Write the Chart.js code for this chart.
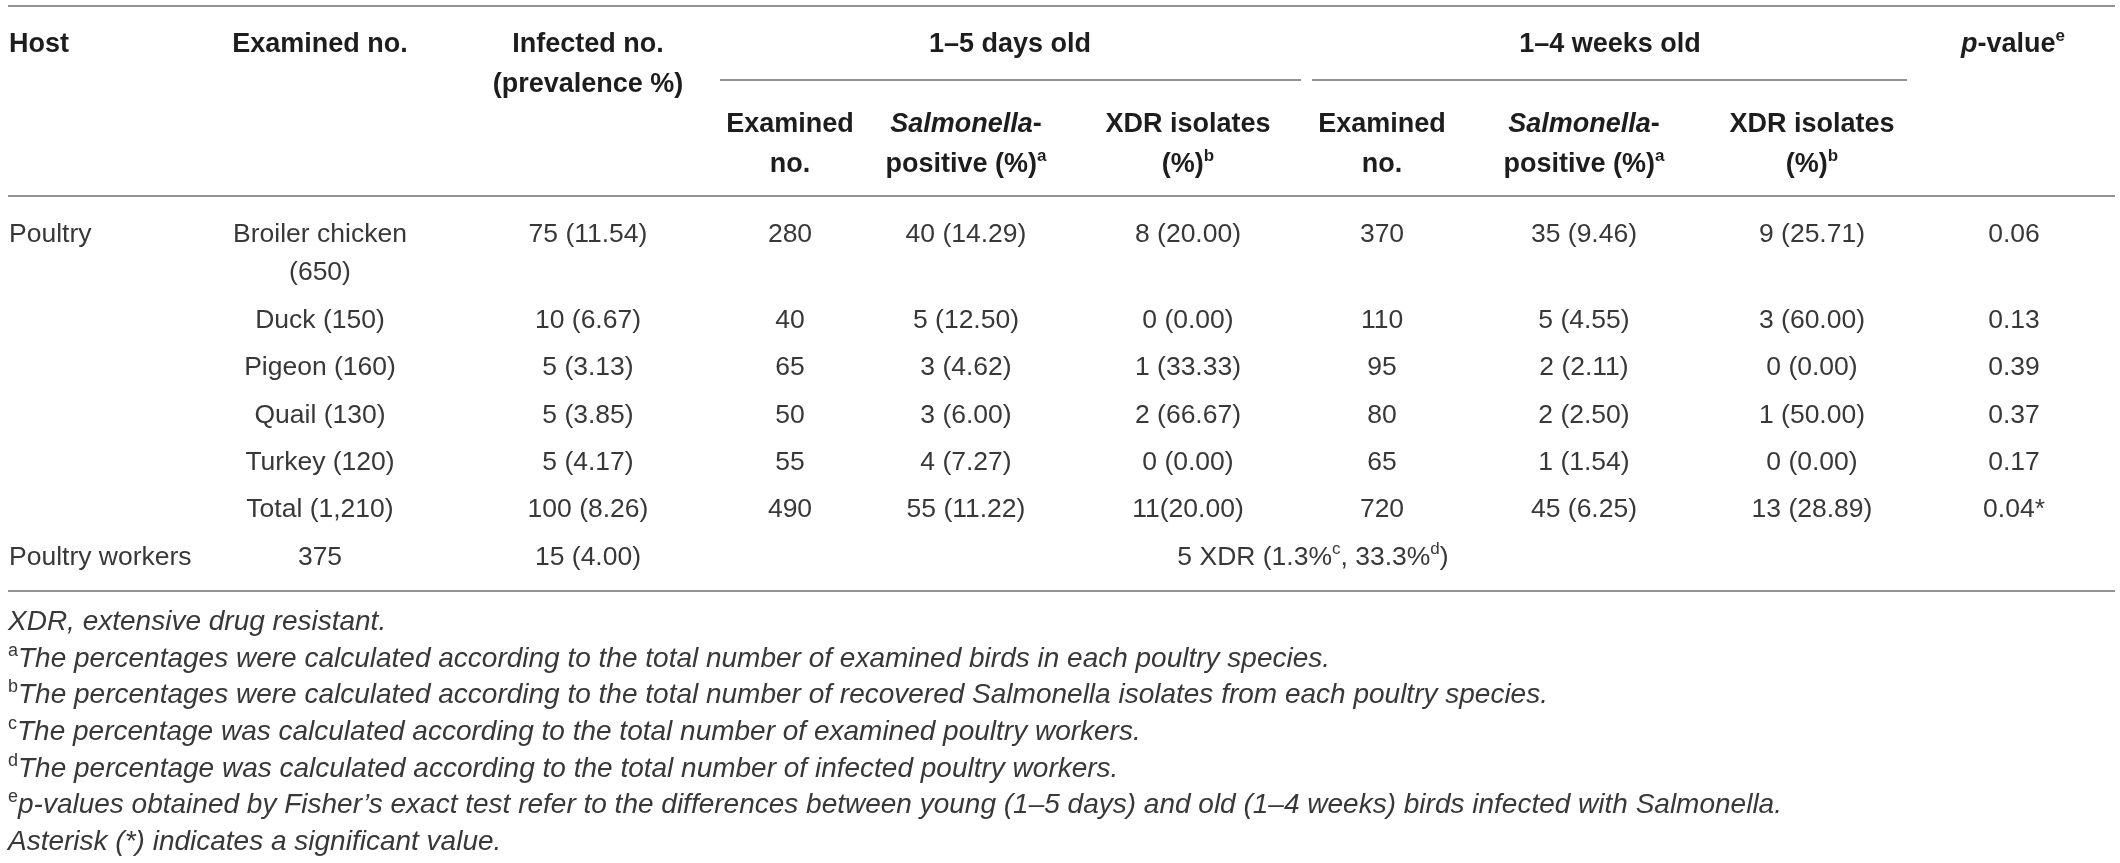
<!DOCTYPE html>
<html>
<head>
<meta charset="utf-8">
<title>Salmonella in poultry and poultry workers</title>
<script src="https://cdn.jsdelivr.net/npm/chart.js@4.4.1/dist/chart.umd.min.js"></script>
<style>
  html, body { margin: 0; padding: 0; background: #fff; }
  #wrap { width: 2120px; height: 863px; }
</style>
</head>
<body>
<div id="wrap"><canvas id="tableChart" width="2120" height="863"></canvas></div>
<script>
// ~ toggles italic, ^x is a superscript letter
const headTop = ['Host', 'Examined no.', 'Infected no.\n(prevalence %)', '1–5 days old', '1–4 weeks old', '~p~-value^e'];
const headSub = ['Examined\nno.', '~Salmonella~-\npositive (%)^a', 'XDR isolates\n(%)^b',
                 'Examined\nno.', '~Salmonella~-\npositive (%)^a', 'XDR isolates\n(%)^b'];

const hostCol = ['Poultry', '', '', '', '', '', 'Poultry workers'];
const examinedNo = ['Broiler chicken\n(650)', 'Duck (150)', 'Pigeon (160)', 'Quail (130)', 'Turkey (120)', 'Total (1,210)', '375'];
const infectedNo = ['75 (11.54)', '10 (6.67)', '5 (3.13)', '5 (3.85)', '5 (4.17)', '100 (8.26)', '15 (4.00)'];
const examinedYoung = ['280', '40', '65', '50', '55', '490', ''];
const salmonellaYoung = ['40 (14.29)', '5 (12.50)', '3 (4.62)', '3 (6.00)', '4 (7.27)', '55 (11.22)', ''];
const xdrYoung = ['8 (20.00)', '0 (0.00)', '1 (33.33)', '2 (66.67)', '0 (0.00)', '11(20.00)', ''];
const examinedOld = ['370', '110', '95', '80', '65', '720', ''];
const salmonellaOld = ['35 (9.46)', '5 (4.55)', '2 (2.11)', '2 (2.50)', '1 (1.54)', '45 (6.25)', ''];
const xdrOld = ['9 (25.71)', '3 (60.00)', '0 (0.00)', '1 (50.00)', '0 (0.00)', '13 (28.89)', ''];
const pValues = ['0.06', '0.13', '0.39', '0.37', '0.17', '0.04*', ''];
const workersXdr = '5 XDR (1.3%^c, 33.3%^d)';

const footnotes = [
  'XDR, extensive drug resistant.',
  '^aThe percentages were calculated according to the total number of examined birds in each poultry species.',
  '^bThe percentages were calculated according to the total number of recovered Salmonella isolates from each poultry species.',
  '^cThe percentage was calculated according to the total number of examined poultry workers.',
  '^dThe percentage was calculated according to the total number of infected poultry workers.',
  '^ep-values obtained by Fisher\u2019s exact test refer to the differences between young (1–5 days) and old (1–4 weeks) birds infected with Salmonella.',
  'Asterisk (*) indicates a significant value.'
];

// ---- layout (canvas units, 1:1 with the hidden scales) ----
const W = 2120, H = 863;
const leftX = 9;
const topColX = [leftX, 320, 588, 1010, 1610, 2013];
const subColX = [790, 966, 1188, 1382, 1584, 1812];
const bodyColX = [leftX, 320, 588, 790, 966, 1188, 1382, 1584, 1812, 2014];
const spanX = 1313;
const headRow1 = 52, headRow2 = 132, headLH = 40;
const rowY = [242, 328, 375, 423, 470, 517, 565];
const bodyLH = 38;
const noteY = [630, 667, 703, 740, 777, 813, 850];
const rules = [
  [8, 2115, 6], [720, 1301, 80], [1312, 1907, 80], [8, 2115, 196], [8, 2115, 591]
];

const FONT = '"Liberation Sans", Arial, Helvetica, sans-serif';
const styles = {
  head: { size: 27, bold: true, italic: false, color: '#1d1d1d' },
  body: { size: 26.5, bold: false, italic: false, color: '#383838' },
  note: { size: 28, bold: false, italic: true, color: '#383838' }
};

// build the cell points
const cells = [];
function addCell(text, x, y, lh, kind, align) {
  text.split('\n').forEach(function(line, k) {
    if (line) cells.push({ x: x, y: y + k * lh, text: line, kind: kind, align: align });
  });
}
headTop.forEach(function(t, i) { addCell(t, topColX[i], headRow1, headLH, 'head', i === 0 ? 'left' : 'center'); });
headSub.forEach(function(t, i) { addCell(t, subColX[i], headRow2, headLH, 'head', 'center'); });

const bodyCols = [hostCol, examinedNo, infectedNo, examinedYoung, salmonellaYoung, xdrYoung,
                  examinedOld, salmonellaOld, xdrOld, pValues];
bodyCols.forEach(function(col, c) {
  col.forEach(function(t, r) {
    addCell(t, bodyColX[c], rowY[r], bodyLH, 'body', c === 0 ? 'left' : 'center');
  });
});
addCell(workersXdr, spanX, rowY[6], bodyLH, 'body', 'center');
footnotes.forEach(function(t, i) { addCell(t, 8, noteY[i], 0, 'note', 'left'); });

function parseRuns(str, baseItalic) {
  const out = [];
  let it = baseItalic, buf = '';
  for (let i = 0; i < str.length; i++) {
    const c = str[i];
    if (c === '~') {
      if (buf) out.push({ t: buf, it: it, sup: false });
      buf = ''; it = !it;
    } else if (c === '^') {
      if (buf) out.push({ t: buf, it: it, sup: false });
      buf = '';
      out.push({ t: str[i + 1], it: false, sup: true });
      i++;
    } else {
      buf += c;
    }
  }
  if (buf) out.push({ t: buf, it: it, sup: false });
  return out;
}

function fontFor(st, run) {
  const size = run.sup ? Math.round(st.size * 0.64) : st.size;
  return (run.it ? 'italic ' : '') + (st.bold ? 'bold ' : '') + size + 'px ' + FONT;
}

const cellText = {
  id: 'cellText',
  afterDatasetsDraw(chart) {
    const ctx = chart.ctx;
    const meta = chart.getDatasetMeta(0);
    ctx.save();
    ctx.textBaseline = 'alphabetic';
    ctx.textAlign = 'left';
    meta.data.forEach(function(pt, j) {
      const cell = chart.data.datasets[0].data[j];
      const st = styles[cell.kind];
      const runs = parseRuns(cell.text, st.italic);
      let total = 0;
      runs.forEach(function(r) { ctx.font = fontFor(st, r); r.w = ctx.measureText(r.t).width; total += r.w; });
      let x = cell.align === 'center' ? pt.x - total / 2 : pt.x;
      ctx.fillStyle = st.color;
      runs.forEach(function(r) {
        ctx.font = fontFor(st, r);
        ctx.fillText(r.t, x, r.sup ? pt.y - st.size * 0.4 : pt.y);
        x += r.w;
      });
    });
    ctx.restore();
  }
};

const ruleSets = rules.map(function(r) {
  return {
    data: [{ x: r[0], y: r[2] }, { x: r[1], y: r[2] }],
    showLine: true,
    borderColor: '#939393',
    borderWidth: 2,
    pointRadius: 0
  };
});

new Chart(document.getElementById('tableChart'), {
  type: 'scatter',
  data: {
    datasets: [{ data: cells, pointRadius: 0, showLine: false }].concat(ruleSets)
  },
  options: {
    responsive: false,
    devicePixelRatio: 1,
    animation: false,
    events: [],
    layout: { padding: 0 },
    plugins: { legend: { display: false }, tooltip: { enabled: false } },
    scales: {
      x: { type: 'linear', min: 0, max: W, display: false },
      y: { type: 'linear', min: 0, max: H, reverse: true, display: false }
    }
  },
  plugins: [cellText]
});
</script>
</body>
</html>
